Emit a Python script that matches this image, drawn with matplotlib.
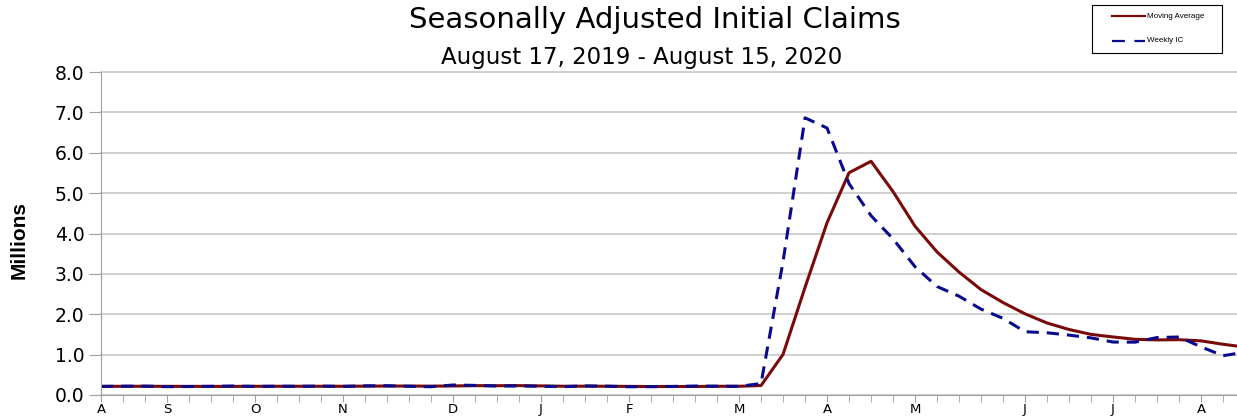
import matplotlib.pyplot as plt
from matplotlib.lines import Line2D
from matplotlib.patches import Rectangle
import numpy as np

plt.rcParams['font.family'] = ['DejaVu Sans']

# semanas desde el 17 de agosto de 2019 hasta el 15 de agosto de 2020 (millones)
semanal_ic = [0.210, 0.215, 0.217, 0.204, 0.208, 0.213, 0.220, 0.210, 0.214, 0.213,
              0.218, 0.211, 0.225, 0.227, 0.213, 0.203, 0.245, 0.235, 0.220, 0.222,
              0.214, 0.204, 0.223, 0.216, 0.202, 0.205, 0.210, 0.219, 0.216, 0.211,
              0.282, 3.307, 6.867, 6.615, 5.237, 4.442, 3.867, 3.176, 2.687, 2.446,
              2.126, 1.897, 1.566, 1.540, 1.482, 1.413, 1.310, 1.307, 1.422, 1.435,
              1.191, 0.971, 1.060]

media_movil = [0.212, 0.213, 0.214, 0.212, 0.211, 0.210, 0.211, 0.213, 0.214, 0.214,
               0.214, 0.214, 0.217, 0.220, 0.219, 0.217, 0.222, 0.229, 0.228, 0.230,
               0.223, 0.215, 0.216, 0.214, 0.211, 0.207, 0.208, 0.209, 0.213, 0.214,
               0.232, 1.004, 2.667, 4.268, 5.507, 5.790, 5.040, 4.180, 3.543, 3.044,
               2.609, 2.289, 2.009, 1.782, 1.621, 1.500, 1.436, 1.378, 1.363, 1.369,
               1.339, 1.255, 1.185]

meses_pos = [0, 3, 7, 11, 16, 20, 24, 29, 33, 37, 42, 46, 50]
meses_txt = ['A', 'S', 'O', 'N', 'D', 'J', 'F', 'M', 'A', 'M', 'J', 'J', 'A']

semanas = np.arange(len(semanal_ic))

rojo = '#7a0a0a'
azul = '#0a0a8c'
guiones = (0, (4.0, 2.6))

fig = plt.figure(figsize=(12.37, 4.17), dpi=100)
# el eje se sale un poco por la derecha, como en la imagen original recortada
ax = fig.add_axes([0.0817, 0.053, 0.9248, 0.774])

ax.set_axisbelow(True)
ax.grid(axis='y', color='#c8c8c8', linewidth=1.2)

ax.plot(semanas, media_movil, color=rojo, linewidth=2.2)
ax.plot(semanas, semanal_ic, color=azul, linewidth=2.2, linestyle=guiones)

ax.set_xlim(0, 52)
ax.set_ylim(0, 8)
ax.set_yticks(np.arange(0, 8.1, 1.0))
ax.set_yticklabels([f'{v:.1f}' for v in np.arange(0, 8.1, 1.0)], fontsize=13.5)
ax.set_xticks(semanas, minor=True)
ax.set_xticks(meses_pos)
ax.set_xticklabels(meses_txt, fontsize=9.5)
ax.tick_params(axis='x', which='both', length=5, color='#a0a0a0', pad=0.5)
ax.tick_params(axis='y', length=9, color='#a0a0a0', pad=3)

for gl in ax.get_ygridlines():
    gl.set_clip_on(False)

for lado in ['top', 'right']:
    ax.spines[lado].set_visible(False)
for lado in ['left', 'bottom']:
    ax.spines[lado].set_color('#a0a0a0')

ax.set_ylabel('Millions', fontsize=15, fontweight='bold', family='Liberation Sans')
ax.yaxis.set_label_coords(-0.0635, 0.48)

fig.text(0.5295, 0.952, 'Seasonally Adjusted Initial Claims', ha='center', va='center', fontsize=21)
fig.text(0.519, 0.862, 'August 17, 2019 - August 15, 2020', ha='center', va='center', fontsize=16.5)

# leyenda dibujada a mano en la esquina superior derecha
fig.add_artist(Rectangle((0.8828, 0.8729), 0.1051, 0.1151, transform=fig.transFigure,
                         facecolor='white', edgecolor='black', linewidth=0.8))
fig.add_artist(Line2D([0.899, 0.9256], [0.9616, 0.9616], transform=fig.transFigure,
                      color=rojo, linewidth=1.6))
fig.add_artist(Line2D([0.899, 0.9256], [0.9017, 0.9017], transform=fig.transFigure,
                      color=azul, linewidth=1.6, linestyle=(0, (5.8, 4.3))))
fig.text(0.9273, 0.9616, 'Moving Average', ha='left', va='center', fontsize=5.8,
         family='Liberation Sans')
fig.text(0.9273, 0.9017, 'Weekly IC', ha='left', va='center', fontsize=5.8,
         family='Liberation Sans')

fig.savefig('out.png', dpi=100)
